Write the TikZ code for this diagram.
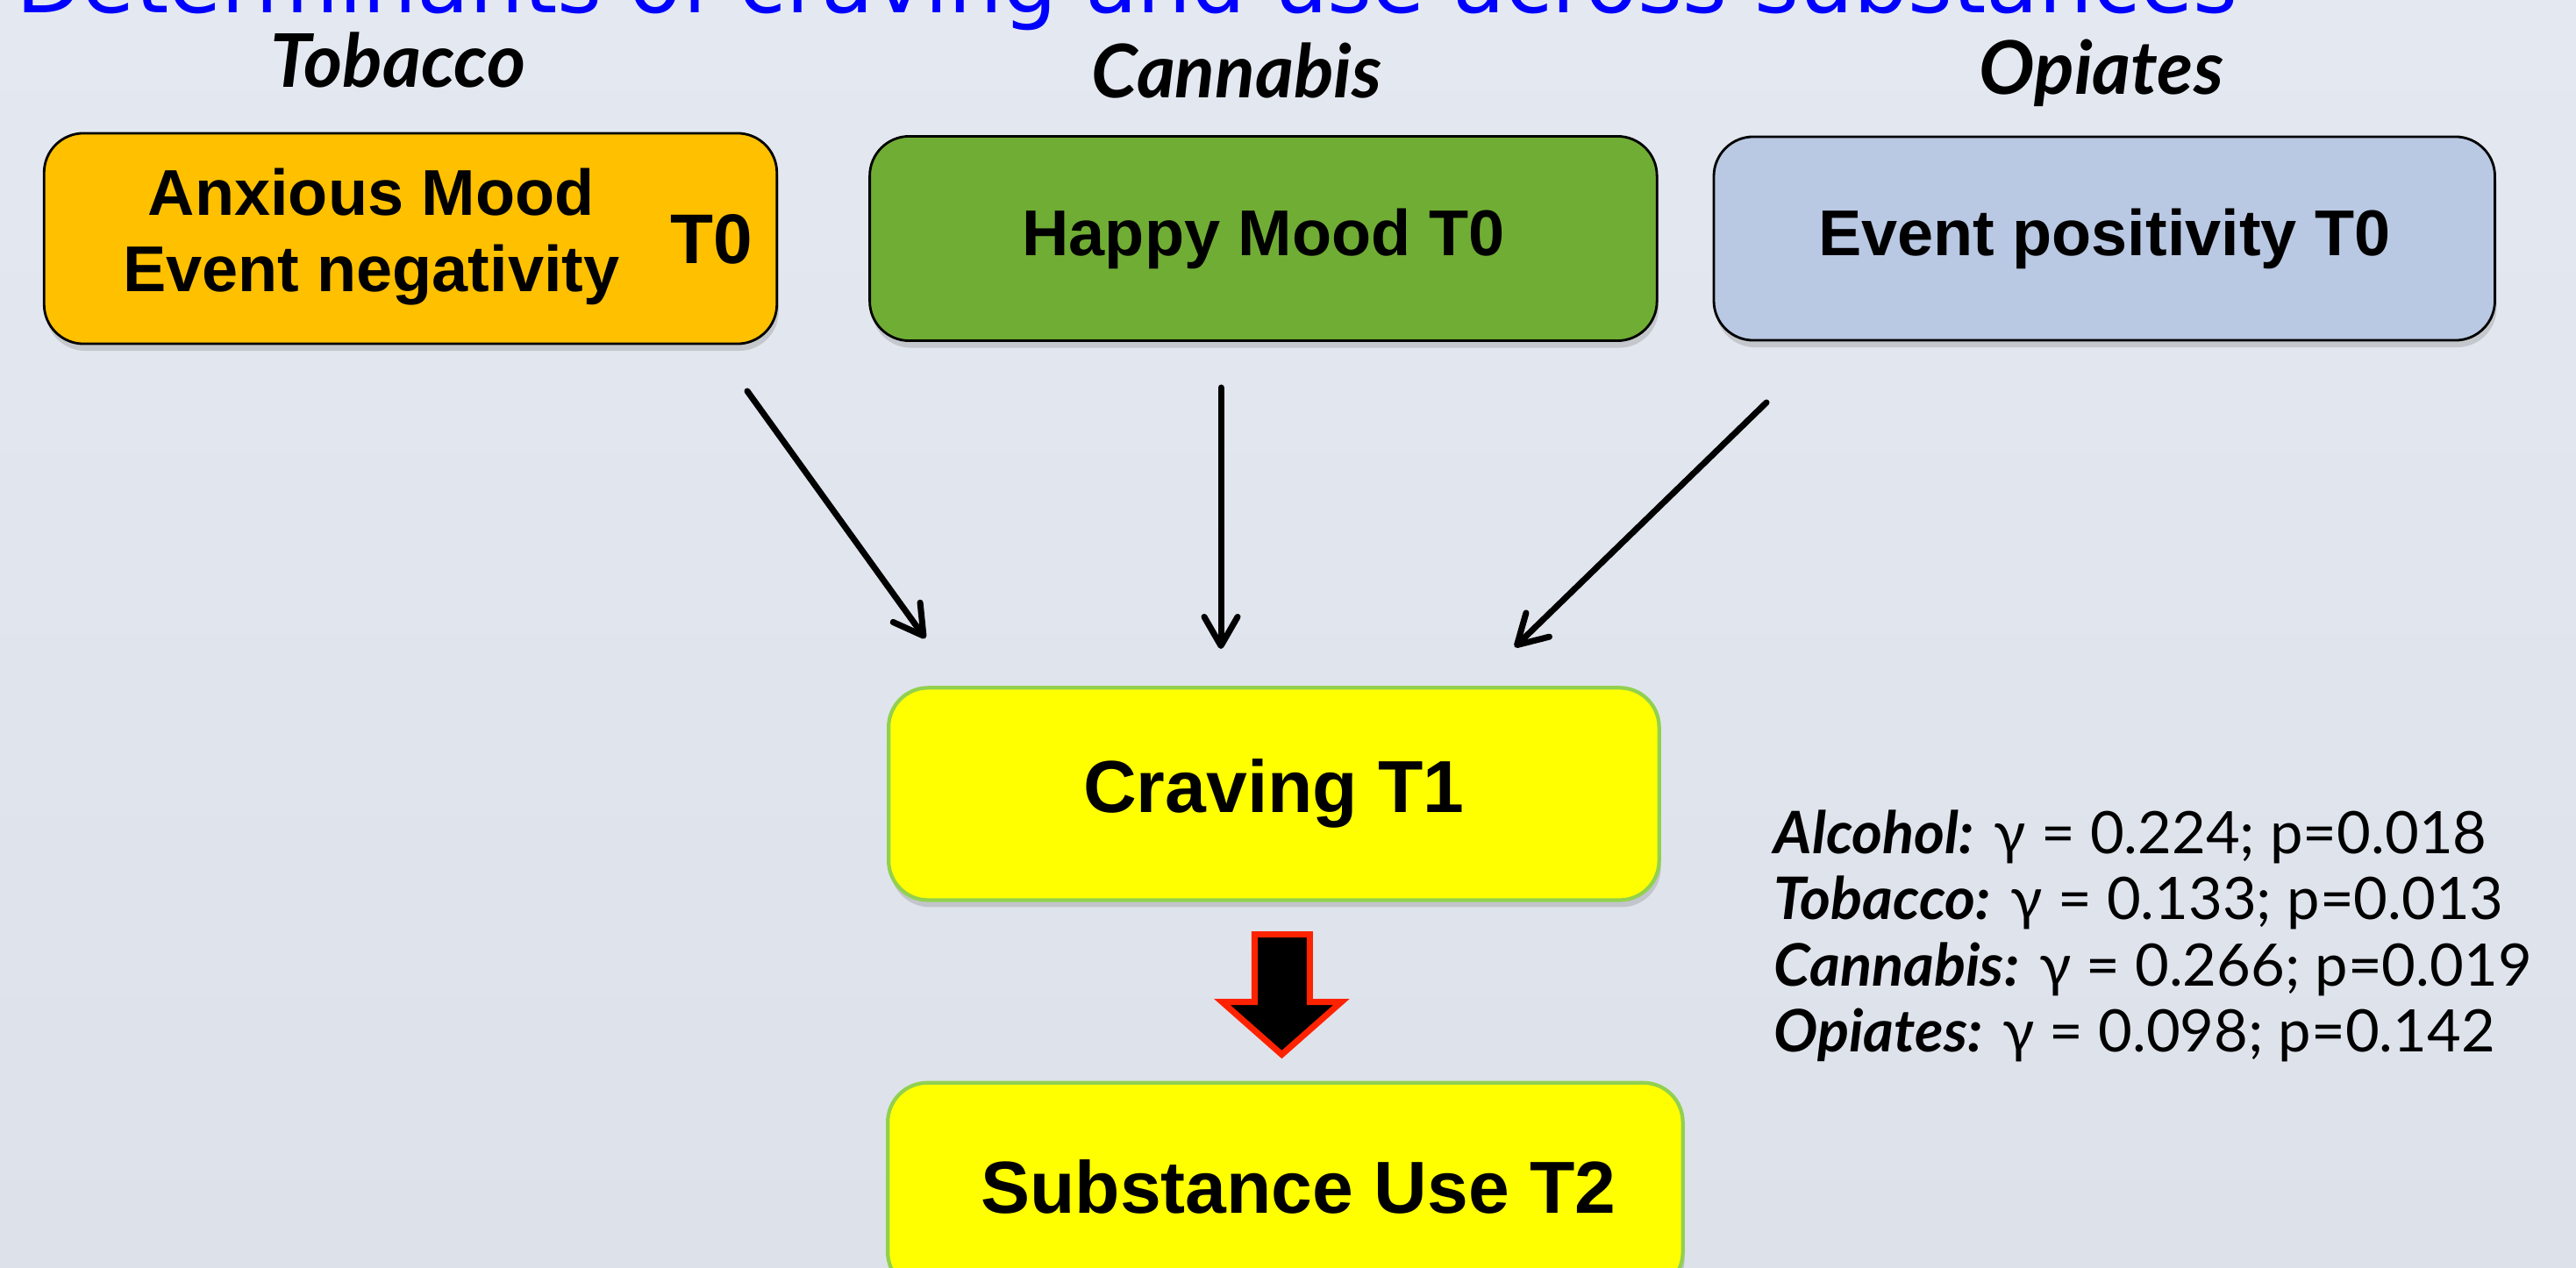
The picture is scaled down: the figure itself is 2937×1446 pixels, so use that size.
\documentclass[tikz,border=0pt]{standalone}
\usepackage{fontspec}
\setmainfont{Liberation Sans}
\newfontfamily\titlefont{DejaVu Sans}
\newfontfamily\notefont{Lato}
\usetikzlibrary{arrows.meta,positioning,shadows,calc}
\definecolor{CravBgTop}{HTML}{E4E8F0}
\definecolor{CravBgBot}{HTML}{DDE2EA}
\definecolor{CravOrange}{HTML}{FFC000}
\definecolor{CravGreen}{HTML}{70AD34}
\definecolor{CravBlue}{HTML}{B9C8E3}
\definecolor{CravYellow}{HTML}{FFFF00}
\definecolor{CravEdge}{HTML}{92D050}
\definecolor{CravRed}{HTML}{FF2200}
\definecolor{CravTitle}{HTML}{0000FF}
\tikzset{
  moodbox/.style={rectangle,rounded corners=0.45cm,draw=black,line width=0.8pt,font=\fontsize{21}{24.75}\selectfont\bfseries,drop shadow={opacity=0.3,shadow xshift=0.02cm,shadow yshift=-0.08cm}},
  stagebox/.style={moodbox,draw=CravEdge,fill=CravYellow,line width=1.2pt,font=\fontsize{23.9}{28}\selectfont\bfseries},
  drug/.style={font=\notefont\fontsize{24}{28}\selectfont\bfseries\itshape,anchor=base},
  thinarrow/.style={-{Straight Barb[length=0.33cm,width=0.38cm,round]},line width=2pt,line cap=round,color=black},
  blockarrow/.style={fill=black,draw=CravRed,line width=2pt,line join=miter},
}
\begin{document}
\begin{tikzpicture}[x=0.01cm,y=-0.01cm]
  \useasboundingbox (0,0) rectangle (2937,1446);
  \clip (0,0) rectangle (2937,1446);
  \shade[top color=CravBgTop,bottom color=CravBgBot] (0,0) rectangle (2937,1446);

  % Title, cut at the top edge
  \node[font=\titlefont\fontsize{27.8}{30}\selectfont,text=CravTitle,anchor=base west,inner sep=0] (title) at (18,15) {Determinants of craving and use across substances};

  % Substance labels
  \node[drug] (tobLabel) at (454,100) {Tobacco};
  \node[drug] (canLabel) at (1410,112) {Cannabis};
  \node[drug] (opiLabel) at (2396,108) {Opiates};

  % Determinants at T0
  \node[moodbox,fill=CravOrange,minimum width=8.35cm,minimum height=2.4cm] (anx) at (468,272) {\hspace*{0.62cm}\begin{tabular}{@{}c@{}}Anxious Mood\\Event negativity\end{tabular}\hspace{0.58cm}\raisebox{-0.1cm}{\fontsize{22.8}{26}\selectfont T0}};
  \node[moodbox,fill=CravGreen,minimum width=8.97cm,minimum height=2.33cm,right=1.03cm of anx] (happy) {Happy Mood T0};
  \node[moodbox,fill=CravBlue,minimum width=8.9cm,minimum height=2.32cm,right=0.62cm of happy] (opi) {Event positivity T0};

  % Craving and use
  \node[stagebox,minimum width=8.78cm,minimum height=2.42cm,below=3.92cm of happy,xshift=0.12cm] (craving) {Craving T1};
  \node[stagebox,minimum width=9.06cm,minimum height=2.38cm,below=2.04cm of craving,xshift=0.13cm] (use) {\hspace*{0.3cm}Substance Use T2};

  % Arrows into craving
  \coordinate (tobFrom) at (852,446);
  \coordinate (tobTo) at (1055,728);
  \coordinate (canFrom) at (1392,442);
  \coordinate (canTo) at (1392,740);
  \coordinate (opiFrom) at (2014,459);
  \coordinate (opiTo) at (1727,738);
  \draw[thinarrow] (tobFrom) -- (tobTo);
  \draw[thinarrow] (canFrom) -- (canTo);
  \draw[thinarrow] (opiFrom) -- (opiTo);

  % Block arrow craving -> use
  \draw[blockarrow] ($(craving.south)+(-22,37)$) -- ++(63,0) -- ++(0,77) -- ++(36,0) -- ++(-68,60) -- ++(-68,-60) -- ++(37,0) -- cycle;

  % Estimates
  \node[anchor=base west,inner sep=0,font=\notefont\fontsize{19}{21.5}\selectfont] (stats) at (2022,973) {\begin{tabular}[t]{@{}l@{}}
    \textbf{\textit{Alcohol:}} γ = 0.224; p=0.018\\
    \textbf{\textit{Tobacco:}} γ = 0.133; p=0.013\\
    \textbf{\textit{Cannabis:}} γ = 0.266; p=0.019\\
    \textbf{\textit{Opiates:}} γ = 0.098; p=0.142
  \end{tabular}};
\end{tikzpicture}
\end{document}
